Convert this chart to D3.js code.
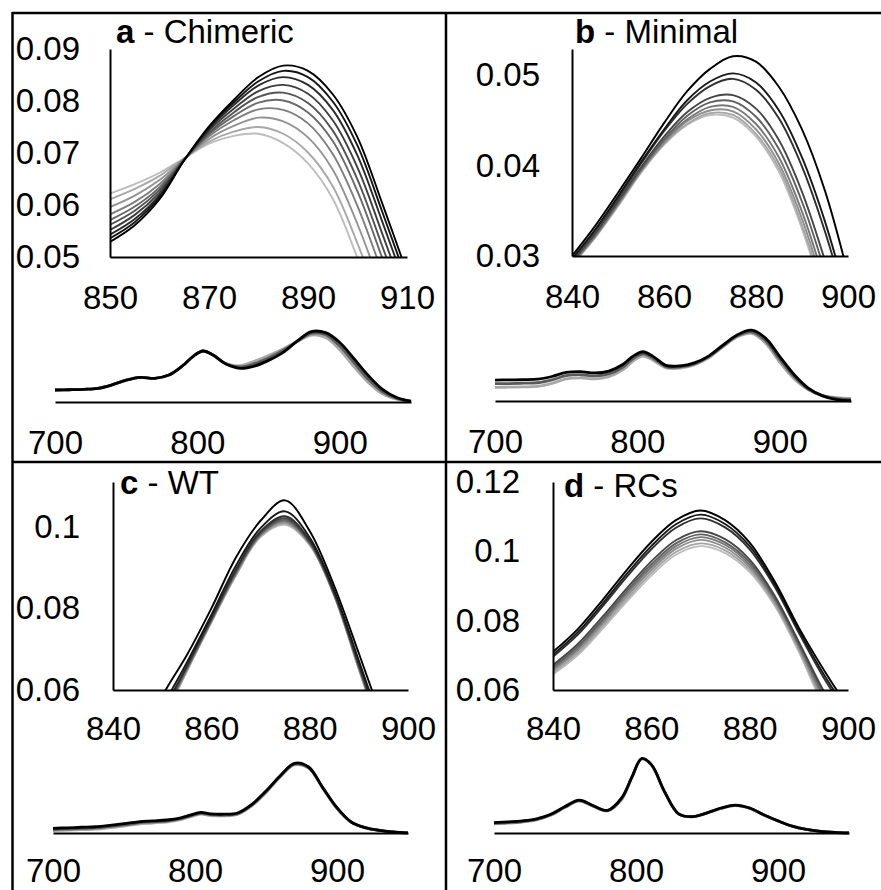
<!DOCTYPE html>
<html>
<head>
<meta charset="utf-8">
<script src="https://cdn.jsdelivr.net/npm/d3@7"></script>
<style>
  body { margin: 0; background: #fff; }
  svg text { font-family: "Liberation Sans", Arial, sans-serif; }
</style>
</head>
<body>
<svg id="chart" width="881" height="890"></svg>
<script>
// inset wavelengths (nm)
var insetWlA = [850,855,860,865,870,875,880,885,890,895,900,905,910];
var insetWl  = [840,845,850,855,860,865,870,875,880,885,890,895,900];

// inset absorbance curves, lightest first, darkest last
var insetA = [
  [.0622,.0640,.0662,.0690,.0718,.0733,.0737,.0719,.0680,.0612,.0498,.0370,.0240],
  [.0611,.0631,.0656,.0690,.0722,.0741,.0750,.0737,.0701,.0636,.0526,.0398,.0268],
  [.0596,.0618,.0648,.0689,.0727,.0752,.0768,.0761,.0730,.0668,.0563,.0435,.0304],
  [.0582,.0606,.0640,.0688,.0732,.0763,.0784,.0783,.0757,.0698,.0598,.0470,.0339],
  [.0571,.0597,.0634,.0688,.0736,.0771,.0797,.0801,.0778,.0723,.0626,.0498,.0367],
  [.0562,.0589,.0629,.0687,.0739,.0778,.0808,.0816,.0796,.0743,.0649,.0521,.0390],
  [.0552,.0581,.0624,.0687,.0743,.0785,.0819,.0831,.0814,.0763,.0672,.0545,.0413],
  [.0543,.0573,.0619,.0687,.0746,.0792,.0830,.0846,.0831,.0783,.0695,.0568,.0436],
  [.0536,.0567,.0615,.0686,.0749,.0797,.0838,.0858,.0846,.0799,.0714,.0587,.0454],
  [.0529,.0561,.0611,.0686,.0751,.0802,.0846,.0868,.0858,.0813,.0730,.0603,.0470]
];
var insetB = [
  [.0290,.0320,.0355,.0392,.0423,.0445,.0456,.0453,.0432,.0393,.0330,.0250,.0170],
  [.0290,.0321,.0356,.0393,.0424,.0446,.0458,.0456,.0435,.0397,.0334,.0255,.0174],
  [.0291,.0321,.0357,.0394,.0425,.0449,.0461,.0460,.0440,.0402,.0341,.0262,.0181],
  [.0292,.0322,.0358,.0395,.0427,.0451,.0465,.0465,.0446,.0409,.0349,.0271,.0189],
  [.0293,.0324,.0359,.0396,.0429,.0455,.0470,.0471,.0454,.0418,.0360,.0283,.0200],
  [.0294,.0325,.0361,.0398,.0432,.0459,.0475,.0478,.0463,.0428,.0371,.0295,.0211],
  [.0296,.0328,.0364,.0402,.0438,.0468,.0488,.0496,.0484,.0452,.0399,.0327,.0239],
  [.0297,.0329,.0366,.0404,.0440,.0472,.0493,.0502,.0492,.0461,.0409,.0338,.0249],
  [.0300,.0333,.0370,.0408,.0447,.0482,.0507,.0521,.0515,.0487,.0440,.0372,.0280]
];
var insetC = [
  [.0280,.0400,.0520,.0645,.0765,.0880,.0975,.1005,.0955,.0830,.0650,.0470,.0300],
  [.0283,.0403,.0523,.0647,.0767,.0882,.0977,.1008,.0957,.0831,.0652,.0473,.0303],
  [.0286,.0406,.0527,.0649,.0769,.0885,.0979,.1011,.0959,.0833,.0654,.0475,.0305],
  [.0289,.0409,.0530,.0651,.0770,.0887,.0981,.1014,.0960,.0834,.0656,.0478,.0308],
  [.0292,.0412,.0533,.0653,.0772,.0889,.0983,.1017,.0962,.0835,.0658,.0480,.0310],
  [.0296,.0416,.0538,.0656,.0774,.0892,.0986,.1021,.0964,.0837,.0661,.0484,.0314],
  [.0301,.0421,.0543,.0659,.0777,.0896,.0989,.1026,.0967,.0839,.0664,.0488,.0318],
  [.0313,.0433,.0556,.0667,.0784,.0905,.0997,.1038,.0974,.0844,.0672,.0498,.0328],
  [.0340,.0460,.0585,.0685,.0800,.0925,.1015,.1065,.0990,.0855,.0690,.0520,.0350]
];
var insetD = [
  [.0645,.0700,.0775,.0855,.0930,.0990,.1015,.0995,.0940,.0845,.0710,.0555,.0440],
  [.0650,.0706,.0782,.0862,.0938,.0998,.1023,.1003,.0947,.0851,.0716,.0563,.0449],
  [.0656,.0713,.0789,.0870,.0946,.1007,.1033,.1011,.0954,.0857,.0722,.0573,.0459],
  [.0661,.0719,.0796,.0878,.0954,.1015,.1041,.1019,.0961,.0863,.0728,.0581,.0468],
  [.0666,.0725,.0802,.0885,.0962,.1023,.1049,.1026,.0968,.0868,.0733,.0590,.0476],
  [.0672,.0732,.0810,.0893,.0971,.1032,.1058,.1035,.0976,.0874,.0739,.0599,.0486],
  [.0696,.0759,.0840,.0926,.1006,.1068,.1095,.1069,.1006,.0900,.0765,.0637,.0526],
  [.0702,.0766,.0848,.0935,.1015,.1078,.1106,.1079,.1015,.0907,.0772,.0647,.0537],
  [.0710,.0775,.0858,.0946,.1027,.1090,.1118,.1090,.1025,.0915,.0780,.0660,.0550]
];

// full spectra 700-950 nm (light, mid, dark)
var fullWl = [700,710,720,730,740,750,760,770,780,790,797,804,811,820,830,840,850,860,870,880,890,900,910,920,930,940,950];
var fullA = [
  [.0147,.0150,.0155,.0167,.0210,.0268,.0302,.0290,.0330,.0450,.0560,.0625,.0575,.0470,.0445,.0500,.0570,.0650,.0740,.0820,.0790,.0640,.0430,.0240,.0100,.0035,.0005],
  [.0147,.0150,.0155,.0167,.0210,.0268,.0302,.0290,.0330,.0450,.0560,.0625,.0575,.0468,.0430,.0470,.0540,.0630,.0742,.0842,.0825,.0685,.0480,.0280,.0125,.0045,.0008],
  [.0147,.0150,.0155,.0167,.0210,.0268,.0302,.0290,.0330,.0450,.0560,.0625,.0575,.0465,.0413,.0440,.0510,.0605,.0745,.0862,.0850,.0730,.0530,.0325,.0155,.0055,.0010]
];
var fullB = [
  [.0100,.0102,.0104,.0108,.0130,.0162,.0170,.0162,.0178,.0230,.0294,.0330,.0300,.0244,.0242,.0265,.0318,.0397,.0470,.0496,.0425,.0284,.0163,.0082,.0040,.0025,.0020],
  [.0127,.0128,.0131,.0134,.0155,.0186,.0193,.0184,.0199,.0250,.0312,.0346,.0314,.0253,.0250,.0273,.0324,.0403,.0478,.0508,.0443,.0305,.0179,.0088,.0039,.0018,.0010],
  [.0154,.0155,.0157,.0160,.0180,.0210,.0216,.0206,.0220,.0270,.0330,.0362,.0328,.0262,.0258,.0280,.0330,.0410,.0485,.0520,.0462,.0326,.0195,.0095,.0038,.0010,.0002]
];
var fullC = [
  [.0035,.0042,.0050,.0058,.0080,.0105,.0135,.0150,.0165,.0200,.0245,.0282,.0262,.0258,.0278,.0405,.0605,.0840,.1020,.0975,.0670,.0365,.0160,.0075,.0035,.0012,.0001],
  [.0052,.0060,.0068,.0076,.0098,.0122,.0152,.0166,.0180,.0214,.0258,.0295,.0275,.0270,.0289,.0418,.0618,.0850,.1032,.0982,.0675,.0372,.0162,.0078,.0038,.0014,.0002],
  [.0070,.0078,.0086,.0094,.0115,.0140,.0168,.0182,.0195,.0228,.0272,.0308,.0288,.0282,.0300,.0430,.0630,.0860,.1045,.0990,.0680,.0380,.0165,.0080,.0040,.0015,.0002]
];
var fullD = [
  [.0360,.0390,.0432,.0515,.0700,.1010,.1265,.1050,.0875,.1330,.2180,.2930,.2680,.1640,.0750,.0640,.0785,.0975,.1085,.0975,.0712,.0475,.0268,.0140,.0065,.0025,.0005],
  [.0385,.0415,.0456,.0538,.0720,.1030,.1282,.1065,.0888,.1365,.2190,.2940,.2690,.1645,.0755,.0645,.0792,.0982,.1095,.0982,.0716,.0478,.0269,.0140,.0065,.0025,.0005],
  [.0410,.0440,.0480,.0560,.0740,.1050,.1300,.1080,.0900,.1400,.2200,.2950,.2700,.1650,.0760,.0650,.0800,.0990,.1105,.0990,.0720,.0480,.0270,.0140,.0065,.0025,.0005]
];

// tick labels
var xTicksA = [850,870,890,910];
var xTicksBCD = [840,860,880,900];
var yTicksA = [0.05,0.06,0.07,0.08,0.09];
var yTicksB = [0.03,0.04,0.05];
var yTicksC = [0.06,0.08,0.1];
var yTicksD = [0.06,0.08,0.1,0.12];
var fullTicks = [700,800,900];

var svg = d3.select("#chart");
var fontSize = 33;

var panels = [
  {id:"a", bold:"a", name:" - Chimeric", wl:insetWlA, curves:insetA, xTicks:xTicksA, yTicks:yTicksA,
   inset:{x:[110,407], y:[257,49], xDom:[850,910], yDom:[0.05,0.09], xPad:29, yPad:30},
   title:{x:116, y:43}, full:{data:fullA, x:[55,411], base:402, max:0.0919, pad:29}},
  {id:"b", bold:"b", name:" - Minimal", wl:insetWl, curves:insetB, xTicks:xTicksBCD, yTicks:yTicksB,
   inset:{x:[572,848], y:[256,49], xDom:[840,900], yDom:[0.03,0.0529], xPad:29, yPad:32},
   title:{x:575, y:43}, full:{data:fullB, x:[495,851], base:401, max:0.0551, pad:29}},
  {id:"c", bold:"c", name:" - WT", wl:insetWl, curves:insetC, xTicks:xTicksBCD, yTicks:yTicksC,
   inset:{x:[113,408], y:[690,482], xDom:[840,900], yDom:[0.06,0.111], xPad:27, yPad:33},
   title:{x:120, y:494}, full:{data:fullC, x:[53,408], base:833, max:0.1125, pad:26}},
  {id:"d", bold:"d", name:" - RCs", wl:insetWl, curves:insetD, xTicks:xTicksBCD, yTicks:yTicksD,
   inset:{x:[553,848], y:[690,482], xDom:[840,900], yDom:[0.06,0.12], xPad:27, yPad:33},
   title:{x:564, y:497}, full:{data:fullD, x:[494,849], base:833, max:0.297, pad:26}}
];

function styleAxis(sel) {
  sel.select(".domain").attr("stroke", "#000").attr("stroke-width", 2);
  sel.selectAll("text")
    .attr("fill", "#000")
    .style("font-size", fontSize + "px")
    .style("font-family", '"Liberation Sans", Arial, sans-serif');
}

function drawPanel(p) {
  var g = svg.append("g").attr("class", "panel panel-" + p.id);

  // inset
  var x = d3.scaleLinear().domain(p.inset.xDom).range(p.inset.x);
  var y = d3.scaleLinear().domain(p.inset.yDom).range(p.inset.y);
  var clipId = "clip-" + p.id;
  svg.append("clipPath").attr("id", clipId).append("rect")
    .attr("x", p.inset.x[0])
    .attr("y", p.inset.y[1] - 20)
    .attr("width", p.inset.x[1] - p.inset.x[0])
    .attr("height", p.inset.y[0] - p.inset.y[1] + 20);

  var color = d3.scaleLinear().domain([0, p.curves.length - 1]).range(["#bdbdbd", "#000000"]);
  var line = d3.line()
    .x(function(d, i) { return x(p.wl[i]); })
    .y(function(d) { return y(d); })
    .curve(d3.curveCatmullRom.alpha(0.5));

  g.append("g").attr("clip-path", "url(#" + clipId + ")")
    .selectAll("path")
    .data(p.curves)
    .enter().append("path")
    .attr("d", line)
    .attr("fill", "none")
    .attr("stroke", function(d, i) { return color(i); })
    .attr("stroke-width", 1.9);

  g.append("g")
    .attr("transform", "translate(0," + p.inset.y[0] + ")")
    .call(d3.axisBottom(x).tickValues(p.xTicks).tickSize(0).tickPadding(p.inset.xPad))
    .call(styleAxis);

  g.append("g")
    .attr("transform", "translate(" + p.inset.x[0] + ",0)")
    .call(d3.axisLeft(y).tickValues(p.yTicks).tickSize(0).tickPadding(p.inset.yPad).tickFormat(d3.format("~g")))
    .call(styleAxis);

  // title
  var t = g.append("text")
    .attr("x", p.title.x).attr("y", p.title.y)
    .style("font-size", fontSize + "px");
  t.append("tspan").attr("font-weight", "bold").text(p.bold);
  t.append("tspan").attr("font-weight", "normal").text(p.name);

  // full spectrum
  var fx = d3.scaleLinear().domain([700, 950]).range(p.full.x);
  var fy = d3.scaleLinear().domain([0, p.full.max]).range([p.full.base, p.full.base - 75]);
  var fcolor = ["#a8a8a8", "#5a5a5a", "#000000"];
  var fline = d3.line()
    .x(function(d, i) { return fx(fullWl[i]); })
    .y(function(d) { return fy(d); })
    .curve(d3.curveCatmullRom.alpha(0.5));

  g.append("g")
    .selectAll("path")
    .data(p.full.data)
    .enter().append("path")
    .attr("d", fline)
    .attr("fill", "none")
    .attr("stroke", function(d, i) { return fcolor[i]; })
    .attr("stroke-width", 2.8);

  g.append("g")
    .attr("transform", "translate(0," + p.full.base + ")")
    .call(d3.axisBottom(fx).tickValues(fullTicks).tickSize(0).tickPadding(p.full.pad))
    .call(styleAxis);
}

panels.forEach(drawPanel);

// panel frame lines
var frame = [
  [12, 13, 881, 13],
  [12, 462, 881, 462],
  [12.5, 12, 12.5, 890],
  [446, 12, 446, 890]
];
svg.append("g").selectAll("line")
  .data(frame)
  .enter().append("line")
  .attr("x1", function(d) { return d[0]; })
  .attr("y1", function(d) { return d[1]; })
  .attr("x2", function(d) { return d[2]; })
  .attr("y2", function(d) { return d[3]; })
  .attr("stroke", "#000")
  .attr("stroke-width", 2.5);
</script>
</body>
</html>
